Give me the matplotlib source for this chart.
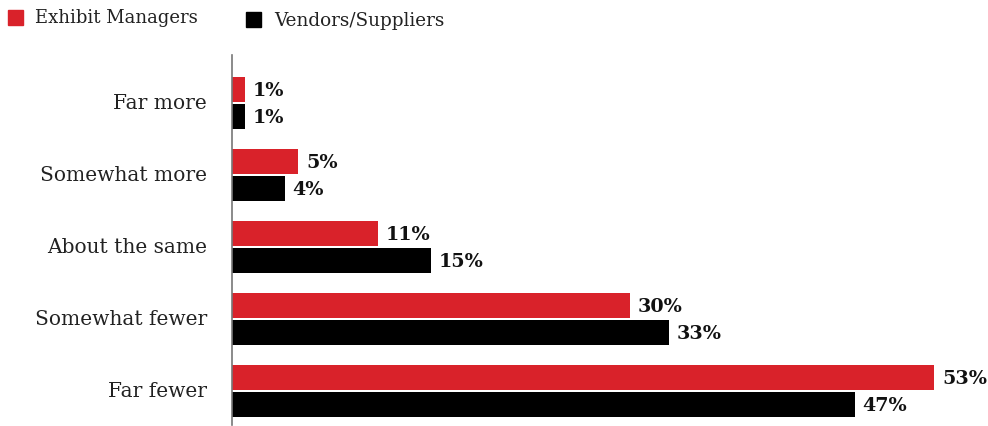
import matplotlib
matplotlib.use("Agg")
import matplotlib.pyplot as plt
from matplotlib.patches import Rectangle
import numpy as np

categories = ["Far more", "Somewhat more", "About the same", "Somewhat fewer", "Far fewer"]
series_names = ["Exhibit Managers", "Vendors/Suppliers"]
exhibit_managers = [1, 5, 11, 30, 53]
vendors_suppliers = [1, 4, 15, 33, 47]
colors = ["#d9222a", "#000000"]

W, H = 988, 427
fig = plt.figure(figsize=(W / 100, H / 100), dpi=100)

# axes spans from the vertical baseline to the right edge
left_px, right_px, top_px, bottom_px = 232, 988, 56, 426
ax = fig.add_axes([left_px / W, 1 - bottom_px / H,
                   (right_px - left_px) / W, (bottom_px - top_px) / H])

y = np.arange(len(categories))
bar_h = 0.35
offset = 0.1875
series = [exhibit_managers, vendors_suppliers]
for k, (vals, col) in enumerate(zip(series, colors)):
    ys = y + (offset if k else -offset)
    ax.barh(ys, vals, height=bar_h, color=col, left=0)
    for yy, v in zip(ys, vals):
        ax.annotate(f"{v}%", (v, yy), xytext=(5.5, -0.5), textcoords="offset points",
                    ha="left", va="center", fontsize=13.8, fontweight="bold",
                    family="DejaVu Serif", color="#111111")

ax.set_xlim(0, (right_px - left_px) / 13.25)
ax.set_ylim((bottom_px - 104) / 72, (top_px - 104) / 72)
ax.set_yticks(y - 0.03)
ax.set_yticklabels(categories, family="DejaVu Serif", fontsize=14.5, color="#222222")
ax.tick_params(axis="y", length=0, pad=18)
ax.set_xticks([])
for s in ["top", "right", "bottom"]:
    ax.spines[s].set_visible(False)
ax.spines["left"].set_color("#777777")
ax.spines["left"].set_linewidth(1.2)

# legend across the top
legend_items = [(8, 11, series_names[0], colors[0], 35, 18, 13.0),
                (246, 13, series_names[1], colors[1], 274, 21, 13.2)]
for sx, sy, name, col, tx, ty, fs in legend_items:
    fig.patches.append(Rectangle((sx / W, 1 - (sy + 15) / H), 15 / W, 15 / H,
                                 transform=fig.transFigure, color=col))
    fig.text(tx / W, 1 - ty / H, name, family="DejaVu Serif", fontsize=fs,
             va="center", ha="left", color="#222222")

fig.savefig("out.png", dpi=100)
